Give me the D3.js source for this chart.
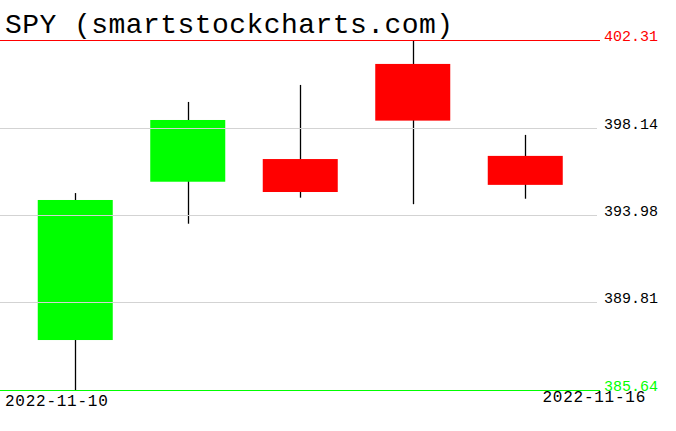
<!DOCTYPE html>
<html>
<head>
<meta charset="utf-8">
<script src="https://cdn.jsdelivr.net/npm/d3@7"></script>
<style>
  html, body { margin: 0; padding: 0; background: #fff; }
  svg { display: block; }
  text { font-family: "Liberation Mono", "DejaVu Sans Mono", monospace; }
</style>
</head>
<body>
<svg id="chart" width="676" height="431"></svg>
<script>
const dates  = ["2022-11-10", "2022-11-11", "2022-11-14", "2022-11-15", "2022-11-16"];
const opens  = [388.02, 395.56, 396.64, 401.17, 396.79];
const highs  = [395.02, 399.36, 400.17, 402.31, 397.79];
const lows   = [385.64, 393.56, 394.80, 394.49, 394.75];
const closes = [394.69, 398.50, 395.07, 398.47, 395.41];
const yTicks = [385.64, 389.81, 393.98, 398.14, 402.31];
const title = "SPY (smartstockcharts.com)";

const svg = d3.select("#chart");

const x = d3.scaleBand().domain(dates).range([19, 581.5]).padding(0);
const y = d3.scaleLinear().domain([385.64, 402.31]).range([390, 40]);

const data = dates.map((d, i) => ({ date: d, o: opens[i], h: highs[i], l: lows[i], c: closes[i] }));
const bw = x.bandwidth() * 2 / 3;

// wicks
svg.append("g").selectAll("line").data(data).join("line")
  .attr("x1", d => Math.round(x(d.date) + x.bandwidth() / 2) + 0.5)
  .attr("x2", d => Math.round(x(d.date) + x.bandwidth() / 2) + 0.5)
  .attr("y1", d => y(d.h))
  .attr("y2", d => y(d.l))
  .attr("stroke", "#000")
  .attr("stroke-width", 1.3);

// bodies
svg.append("g").selectAll("rect").data(data).join("rect")
  .attr("x", d => x(d.date) + (x.bandwidth() - bw) / 2)
  .attr("width", bw)
  .attr("y", d => y(Math.max(d.o, d.c)))
  .attr("height", d => Math.abs(y(d.o) - y(d.c)))
  .attr("fill", d => d.c >= d.o ? "#00ff00" : "#ff0000");

// grid lines and labels
const maxV = d3.max(yTicks), minV = d3.min(yTicks);
const colorFor = v => v === maxV ? "#ff0000" : (v === minV ? "#00ff00" : "#000");
const lineColor = v => v === maxV ? "#ff0000" : (v === minV ? "#00ff00" : "#d3d3d3");

const grid = svg.append("g");
grid.selectAll("line").data(yTicks).join("line")
  .attr("x1", 0)
  .attr("x2", v => (v === maxV || v === minV) ? 600 : 597)
  .attr("y1", v => Math.round(y(v)) + 0.5)
  .attr("y2", v => Math.round(y(v)) + 0.5)
  .attr("stroke", lineColor)
  .attr("stroke-width", 1);

// dates at bottom
svg.append("text")
  .attr("x", 5).attr("y", 406)
  .attr("font-size", 16)
  .attr("letter-spacing", 0.75)
  .attr("fill", "#000")
  .text(dates[0]);
svg.append("text")
  .attr("x", 646).attr("y", 402)
  .attr("text-anchor", "end")
  .attr("font-size", 16)
  .attr("letter-spacing", 0.75)
  .attr("fill", "#000")
  .text(dates[dates.length - 1]);

grid.selectAll("text").data(yTicks).join("text")
  .attr("x", 604)
  .attr("y", v => Math.round(y(v)) + 0.5)
  .attr("font-size", 15)
  .attr("fill", colorFor)
  .text(v => v.toFixed(2));

// title
svg.append("text")
  .attr("x", 5).attr("y", 33)
  .attr("font-size", 28)
  .attr("letter-spacing", 0.45)
  .attr("fill", "#000")
  .text(title);
</script>
</body>
</html>
